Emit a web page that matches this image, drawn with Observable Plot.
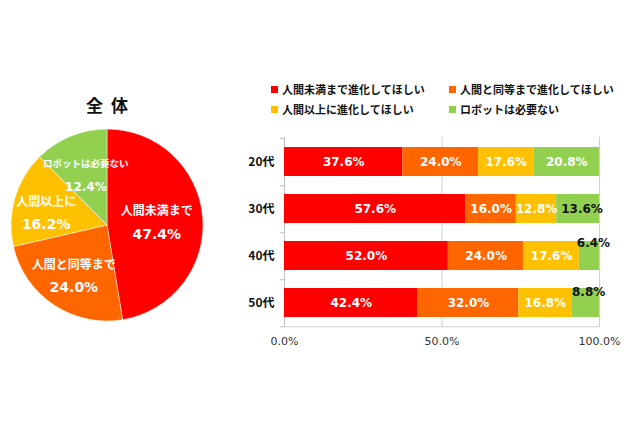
<!DOCTYPE html>
<html><head><meta charset="utf-8">
<script src="https://cdn.jsdelivr.net/npm/d3@7"></script>
<script src="https://cdn.jsdelivr.net/npm/@observablehq/plot@0.6"></script>
<style>
html,body{margin:0;padding:0;background:#fff;}
#wrap{position:relative;width:640px;height:426px;overflow:hidden;font-family:"DejaVu Sans","Noto Sans CJK JP",sans-serif;}
.lg{position:absolute;font-size:11px;font-weight:bold;color:#111;font-family:"Noto Sans CJK JP",sans-serif;white-space:nowrap;line-height:14px;}
.lg i{display:inline-block;width:7px;height:7px;margin-right:4px;vertical-align:1px;}
</style></head>
<body><div id="wrap"></div>
<script>
const ages = ["20代", "30代", "40代", "50代"];
const series = ["人間未満まで進化してほしい", "人間と同等まで進化してほしい", "人間以上に進化してほしい", "ロボットは必要ない"];
const colors = ["#ff0000", "#ff6600", "#ffc000", "#92d050"];
const v20 = [37.6, 24.0, 17.6, 20.8];
const v30 = [57.6, 16.0, 12.8, 13.6];
const v40 = [52.0, 24.0, 17.6, 6.4];
const v50 = [42.4, 32.0, 16.8, 8.8];
const overall = [47.4, 24.0, 16.2, 12.4];
const pieLabels = ["人間未満まで", "人間と同等まで", "人間以上に", "ロボットは必要ない"];
const pieTitle = "全 体";
const xTicks = [0, 50, 100];

const rows = [v20, v30, v40, v50];
const data = [];
ages.forEach((a, i) => rows[i].forEach((v, j) => data.push({age: a, series: series[j], si: j, value: v})));

const font = '"DejaVu Sans","Noto Sans CJK JP",sans-serif';
const jp = '"Noto Sans CJK JP",sans-serif';

// pie drawn with d3 arcs as a custom Plot mark
function pieMark(index, scales) {
  const g = d3.create("svg:g");
  const cx = 107, cy = 225, r = 96;
  const col = (s) => (scales && scales.color) ? scales.color(s) : colors[series.indexOf(s)];
  const arcs = d3.pie().sort(null).value(d => d)(overall);
  const arc = d3.arc().innerRadius(0).outerRadius(r);
  const lr = [0.52, 0.62, 0.66, 0.58];
  const gg = g.append("g").attr("transform", `translate(${cx},${cy})`);
  gg.selectAll("path").data(arcs).join("path")
    .attr("d", arc).attr("fill", (d, i) => col(series[i]))
    .attr("stroke", "#fff").attr("stroke-width", 0.5);
  arcs.forEach((d, i) => {
    const [x, y] = d3.arc().innerRadius(r * lr[i]).outerRadius(r * lr[i]).centroid(d);
    const off = i === 2 ? 4 : 0;
    gg.append("text").attr("x", x).attr("y", y - 11 + off).attr("text-anchor", "middle")
      .attr("dominant-baseline", "central").attr("fill", "#fff").attr("font-weight", "bold")
      .attr("font-family", jp).attr("font-size", i === 3 ? 9.5 : 12).text(pieLabels[i]);
    gg.append("text").attr("x", x).attr("y", y + 13 + off).attr("text-anchor", "middle")
      .attr("dominant-baseline", "central").attr("fill", "#fff").attr("font-weight", "bold")
      .attr("font-family", font).attr("font-size", i === 3 ? 12 : 14).text(overall[i].toFixed(1) + "%");
  });
  g.append("text").attr("x", 108).attr("y", 104).attr("text-anchor", "middle")
    .attr("dominant-baseline", "central").attr("font-weight", "bold").attr("font-family", jp)
    .attr("font-size", 17).attr("letter-spacing", 2).attr("fill", "#111").text(pieTitle);
  return g.node();
}

const step = 47.5;
const isBlack = d => d.si === 3 && d.age !== "20代";
const pct = d => d.value.toFixed(1) + "%";
const stackOpts = {x: "value", y: "age", z: "series", order: series};
const labelSet = (keep, fill, dy, dx) => Plot.text(data, Plot.stackX({
  ...stackOpts, text: d => keep(d) ? pct(d) : null, fill, dy, dx, fontWeight: "bold", fontSize: 12}));

const chart = Plot.plot({
  width: 640, height: 426,
  marginLeft: 284, marginRight: 41, marginTop: 137, marginBottom: 99,
  style: {fontFamily: font, fontSize: "11px", color: "#333", background: "transparent"},
  x: {domain: [0, 100], label: null},
  y: {domain: ages, label: null, paddingInner: 0.38, paddingOuter: 0.19},
  color: {domain: series, range: colors},
  marks: [
    Plot.ruleX([50, 100], {stroke: "#d0d0d0", strokeWidth: 1}),
    Plot.ruleX([0], {stroke: "#bfbfbf", strokeWidth: 1}),
    Plot.ruleY(ages, {y: d => d, x1: -1.3, x2: 0, dy: step / 2, stroke: "#bfbfbf"}),
    Plot.ruleY([ages[0]], {y: d => d, x1: -1.3, x2: 0, dy: -step / 2, stroke: "#bfbfbf"}),
    Plot.ruleY([ages[3]], {y: d => d, x1: 0, x2: 100, dy: step / 2, stroke: "#d0d0d0"}),
    Plot.barX(data, Plot.stackX({x: "value", y: "age", fill: "series", order: series})),
    labelSet(d => !isBlack(d), "#fff", 0, 0),
    labelSet(d => isBlack(d) && d.age === "30代", "#111", 0, 4),
    labelSet(d => isBlack(d) && d.age === "40代", "#111", -13, 4),
    labelSet(d => isBlack(d) && d.age === "50代", "#111", -11, 3),
    Plot.axisX(xTicks, {tickSize: 0, tickPadding: 10, tickFormat: d => d.toFixed(1) + "%", fontSize: 11, fill: "#333"}),
    Plot.axisY({tickSize: 0, tickPadding: 10, fontWeight: "bold", fontSize: 12, fill: "#111", fontFamily: jp}),
    pieMark
  ]
});
const wrap = document.getElementById("wrap");
wrap.appendChild(chart);

const legendPos = [[271, 82], [449, 82], [271, 102], [449, 102]];
series.forEach((s, i) => {
  const d = document.createElement("div");
  d.className = "lg";
  d.style.left = legendPos[i][0] + "px";
  d.style.top = legendPos[i][1] + "px";
  d.innerHTML = `<i style="background:${colors[i]}"></i>${s}`;
  wrap.appendChild(d);
});
</script></body></html>
